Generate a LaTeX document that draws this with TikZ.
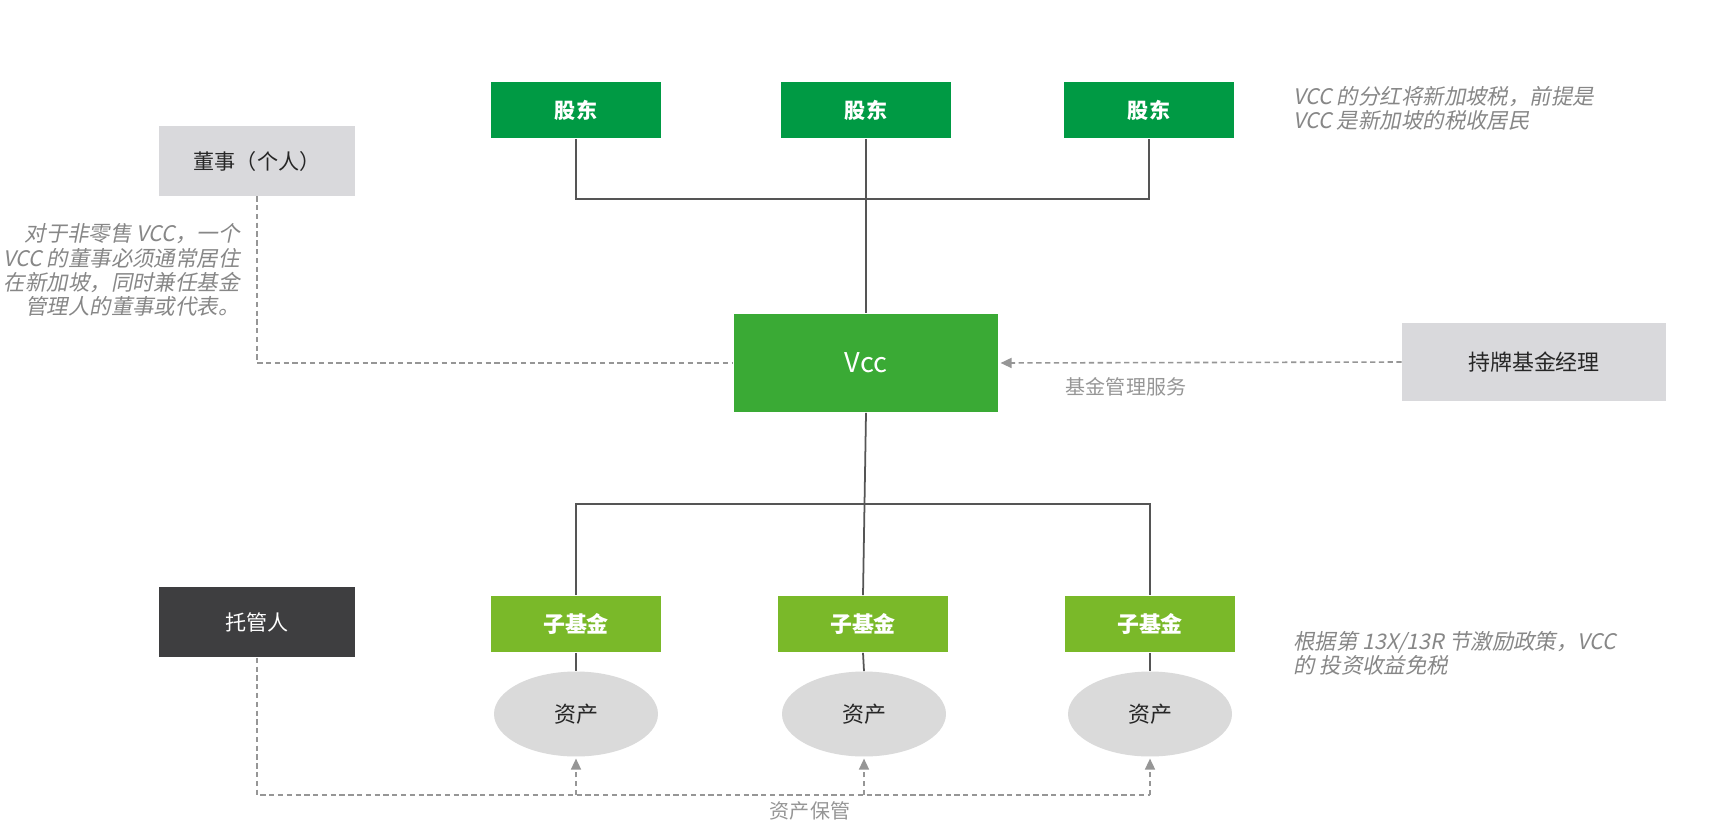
\documentclass[tikz,border=0pt]{standalone}
\usepackage{fontspec}
\setmainfont{Noto Sans CJK SC}
\newfontfamily\noteslant[FakeSlant=0.2]{Noto Sans CJK SC}
\usepackage{xcolor}
\usetikzlibrary{arrows.meta, positioning, shapes.geometric}
\definecolor{holdgreen}{RGB}{0,154,68}
\definecolor{vccgreen}{RGB}{58,170,53}
\definecolor{subgreen}{RGB}{122,185,41}
\definecolor{partygray}{RGB}{217,217,220}
\definecolor{assetgray}{RGB}{218,218,218}
\definecolor{custdark}{RGB}{62,62,64}
\definecolor{wiregray}{RGB}{85,85,85}
\definecolor{dashgray}{RGB}{150,150,150}
\definecolor{notegray}{RGB}{135,135,135}

\begin{document}
\begin{tikzpicture}[x=0.02cm, y=-0.02cm,
    base/.style={minimum height=1.14cm, minimum width=3.4cm, align=center,
                 inner sep=0pt, font=\fontsize{12}{14}\selectfont},
    holder/.style={base, fill=holdgreen, text=white, font=\fontsize{12}{14}\selectfont\bfseries},
    vccbox/.style={base, fill=vccgreen, text=white, minimum width=5.3cm,
                   minimum height=1.98cm, font=\fontsize{15.5}{17}\selectfont},
    subfund/.style={base, fill=subgreen, text=white, font=\fontsize{12.5}{14}\selectfont\bfseries},
    party/.style={base, fill=partygray, text=black!85, minimum width=3.94cm, minimum height=1.4cm},
    asset/.style={ellipse, fill=assetgray, text=black!85, minimum width=3.28cm,
                  minimum height=1.7cm, inner sep=0pt, font=\fontsize{12.5}{14}\selectfont},
    wire/.style={draw=wiregray, line width=1pt},
    dashline/.style={draw=dashgray, line width=0.9pt, dash pattern=on 3pt off 2pt},
    dasharrow/.style={dashline, -{Triangle[length=2.2mm, width=2mm]}, shorten >=1pt},
    note/.style={text=notegray, font=\fontsize{12.2}{13.8}\selectfont\noteslant, inner sep=0pt},
    lab/.style={text=dashgray, font=\fontsize{11.4}{13}\selectfont, inner sep=0pt}]

    \useasboundingbox (0,0) rectangle (1717,824);
    \fill[white] (0,0) rectangle (1717,824);

    % Shareholders
    \node[holder] (sh1) at (576,110) {股东};
    \node[holder] (sh2) at (866,110) {股东};
    \node[holder] (sh3) at (1149,110) {股东};
    \node[note, anchor=west, align=left] (divnote) at (1293,108)
        {VCC 的分红将新加坡税，前提是\\VCC 是新加坡的税收居民};

    % Umbrella VCC and parties around it
    \node[vccbox] (vcc) at (866,363) {Vcc};
    \node[party] (dir) at (257,161) {董事（个人）};
    \node[party, minimum width=5.28cm, minimum height=1.58cm,
          font=\fontsize{12.5}{14}\selectfont] (fm) at (1534,362) {持牌基金经理};
    \node[note, anchor=east, align=right] (dirnote) at (240,270)
        {对于非零售 VCC，一个\\VCC 的董事必须通常居住\\在新加坡，同时兼任基金\\管理人的董事或代表。};
    \node[lab] (fmlab) at (1126,387) {基金管理服务};

    % Sub-funds and their assets
    \node[subfund] (sf1) at (576,624) {子基金};
    \node[subfund] (sf2) at (863,624) {子基金};
    \node[subfund] (sf3) at (1150,624) {子基金};
    \node[asset] (as1) at (576,714) {资产};
    \node[asset] (as2) at (864,714) {资产};
    \node[asset] (as3) at (1150,714) {资产};
    \node[note, anchor=west, align=left] (taxnote) at (1293,653)
        {根据第 13X/13R 节激励政策，VCC\\的 投资收益免税};

    % Custodian
    \node[party, fill=custdark, text=white, minimum height=1.42cm] (cust) at (257,622) {托管人};
    \node[lab] (custlab) at (810,811) {资产保管};

    % Ownership lines
    \coordinate (topbus) at (866,199);
    \coordinate (lowbus) at (866,504);
    \draw[wire] (sh1.south) |- (topbus) -| (sh3.south);
    \draw[wire] (sh2.south) -- (vcc.north);
    \draw[wire] (vcc.south) -- (sf2.north);
    \draw[wire] (sf1.north) |- (lowbus) -| (sf3.north);
    \foreach \i in {1,2,3}
        \draw[wire] (sf\i.south) -- (as\i.north);

    % Service relations
    \draw[dashline] (dir.south) |- (vcc.west);
    \draw[dasharrow] (fm.west) -- (vcc.east);
    \coordinate (keep) at (0,795);
    \draw[dashline] (cust.south) |- (as3.south |- keep);
    \foreach \i in {1,2,3}
        \draw[dasharrow] (as\i.south |- keep) -- (as\i.south);
\end{tikzpicture}
\end{document}
